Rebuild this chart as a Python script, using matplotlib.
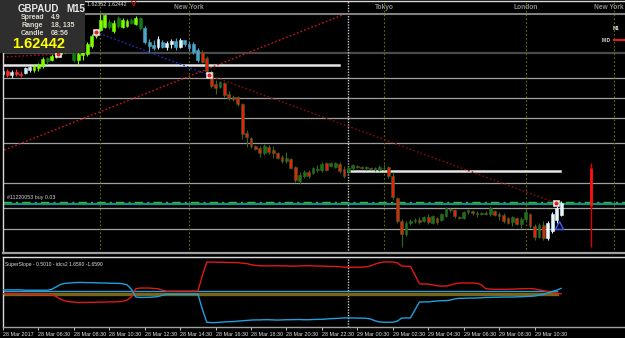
import numpy as np
import matplotlib.pyplot as plt
from matplotlib.patches import Rectangle
from matplotlib.lines import Line2D

plt.rcParams['font.family'] = ['Liberation Sans', 'DejaVu Sans']

# GBPAUD M15 bars, 28 Mar 2017 04:30 -> 29 Mar 11:45
opens = [1.6502, 1.6508, 1.6500, 1.6506, 1.6502, 1.6504, 1.6510, 1.6510, 1.6514, 1.6518,
         1.6534, 1.6530, 1.6538, 1.6542, 1.6550, 1.6554, 1.6550, 1.6530, 1.6540, 1.6542,
         1.6558, 1.6578, 1.6590, 1.6596, 1.6606, 1.6588, 1.6614, 1.6596, 1.6598, 1.6610,
         1.6602, 1.6614, 1.6594, 1.6566, 1.6560, 1.6556, 1.6566, 1.6556, 1.6562, 1.6568,
         1.6556, 1.6570, 1.6562, 1.6562, 1.6550, 1.6546, 1.6534, 1.6506, 1.6482, 1.6476,
         1.6484, 1.6462, 1.6456, 1.6456, 1.6442, 1.6384, 1.6374, 1.6358, 1.6354, 1.6344,
         1.6356, 1.6350, 1.6344, 1.6336, 1.6328, 1.6332, 1.6316, 1.6288, 1.6298, 1.6306,
         1.6304, 1.6310, 1.6310, 1.6324, 1.6318, 1.6316, 1.6322, 1.6312, 1.6306, 1.6314,
         1.6318, 1.6316, 1.6314, 1.6314, 1.6312, 1.6310, 1.6314, 1.6316, 1.6298, 1.6254,
         1.6208, 1.6182, 1.6204, 1.6208, 1.6210, 1.6208, 1.6216, 1.6204, 1.6214, 1.6210,
         1.6218, 1.6232, 1.6230, 1.6216, 1.6214, 1.6226, 1.6228, 1.6224, 1.6222, 1.6224,
         1.6222, 1.6228, 1.6222, 1.6220, 1.6214, 1.6206, 1.6214, 1.6202, 1.6212, 1.6222,
         1.6198, 1.6176, 1.6200, 1.6174, 1.6188, 1.6210, 1.6220]
highs = [1.6510, 1.6512, 1.6510, 1.6512, 1.6508, 1.6516, 1.6518, 1.6522, 1.6524, 1.6536,
         1.6536, 1.6542, 1.6548, 1.6554, 1.6560, 1.6562, 1.6556, 1.6548, 1.6550, 1.6566,
         1.6582, 1.6592, 1.6624, 1.6624, 1.6612, 1.6610, 1.6618, 1.6614, 1.6612, 1.6614,
         1.6618, 1.6616, 1.6598, 1.6572, 1.6570, 1.6578, 1.6570, 1.6568, 1.6572, 1.6574,
         1.6574, 1.6570, 1.6568, 1.6566, 1.6554, 1.6550, 1.6538, 1.6510, 1.6490, 1.6488,
         1.6486, 1.6468, 1.6460, 1.6458, 1.6444, 1.6390, 1.6376, 1.6360, 1.6358, 1.6362,
         1.6360, 1.6358, 1.6346, 1.6340, 1.6346, 1.6334, 1.6318, 1.6306, 1.6310, 1.6310,
         1.6316, 1.6320, 1.6326, 1.6326, 1.6326, 1.6326, 1.6326, 1.6318, 1.6318, 1.6322,
         1.6320, 1.6318, 1.6318, 1.6316, 1.6316, 1.6320, 1.6322, 1.6318, 1.6306, 1.6256,
         1.6212, 1.6208, 1.6212, 1.6214, 1.6216, 1.6218, 1.6222, 1.6220, 1.6216, 1.6224,
         1.6236, 1.6234, 1.6232, 1.6218, 1.6228, 1.6232, 1.6230, 1.6228, 1.6226, 1.6228,
         1.6238, 1.6230, 1.6226, 1.6224, 1.6216, 1.6218, 1.6216, 1.6216, 1.6230, 1.6224,
         1.6202, 1.6204, 1.6208, 1.6208, 1.6226, 1.6238, 1.6248]
lows = [1.6498, 1.6496, 1.6494, 1.6498, 1.6496, 1.6502, 1.6506, 1.6506, 1.6508, 1.6514,
        1.6522, 1.6528, 1.6534, 1.6538, 1.6544, 1.6546, 1.6526, 1.6520, 1.6530, 1.6538,
        1.6554, 1.6574, 1.6588, 1.6594, 1.6592, 1.6584, 1.6594, 1.6594, 1.6596, 1.6602,
        1.6600, 1.6590, 1.6562, 1.6546, 1.6550, 1.6552, 1.6554, 1.6550, 1.6554, 1.6550,
        1.6554, 1.6558, 1.6548, 1.6542, 1.6526, 1.6524, 1.6504, 1.6474, 1.6462, 1.6474,
        1.6456, 1.6450, 1.6448, 1.6438, 1.6372, 1.6356, 1.6354, 1.6350, 1.6336, 1.6340,
        1.6342, 1.6334, 1.6332, 1.6324, 1.6324, 1.6312, 1.6286, 1.6282, 1.6294, 1.6294,
        1.6302, 1.6306, 1.6306, 1.6308, 1.6316, 1.6314, 1.6304, 1.6294, 1.6302, 1.6310,
        1.6314, 1.6312, 1.6310, 1.6310, 1.6308, 1.6308, 1.6310, 1.6294, 1.6252, 1.6204,
        1.6156, 1.6178, 1.6200, 1.6204, 1.6202, 1.6206, 1.6202, 1.6202, 1.6202, 1.6208,
        1.6216, 1.6226, 1.6214, 1.6212, 1.6212, 1.6222, 1.6220, 1.6216, 1.6220, 1.6220,
        1.6218, 1.6218, 1.6210, 1.6204, 1.6202, 1.6198, 1.6200, 1.6194, 1.6208, 1.6194,
        1.6170, 1.6174, 1.6170, 1.6170, 1.6184, 1.6204, 1.6218]
closes = [1.6508, 1.6500, 1.6506, 1.6502, 1.6500, 1.6514, 1.6516, 1.6518, 1.6520, 1.6532,
          1.6528, 1.6538, 1.6544, 1.6550, 1.6556, 1.6550, 1.6530, 1.6542, 1.6546, 1.6562,
          1.6578, 1.6588, 1.6610, 1.6620, 1.6596, 1.6604, 1.6598, 1.6610, 1.6608, 1.6604,
          1.6614, 1.6594, 1.6566, 1.6558, 1.6554, 1.6572, 1.6556, 1.6564, 1.6568, 1.6556,
          1.6570, 1.6562, 1.6554, 1.6546, 1.6530, 1.6526, 1.6508, 1.6478, 1.6474, 1.6486,
          1.6460, 1.6454, 1.6452, 1.6442, 1.6382, 1.6376, 1.6358, 1.6352, 1.6344, 1.6358,
          1.6346, 1.6344, 1.6334, 1.6328, 1.6334, 1.6314, 1.6290, 1.6300, 1.6306, 1.6298,
          1.6314, 1.6312, 1.6322, 1.6310, 1.6324, 1.6324, 1.6308, 1.6298, 1.6314, 1.6320,
          1.6316, 1.6314, 1.6316, 1.6312, 1.6314, 1.6316, 1.6314, 1.6298, 1.6256, 1.6208,
          1.6182, 1.6204, 1.6208, 1.6210, 1.6206, 1.6216, 1.6206, 1.6218, 1.6206, 1.6222,
          1.6234, 1.6230, 1.6218, 1.6214, 1.6226, 1.6230, 1.6224, 1.6222, 1.6224, 1.6222,
          1.6234, 1.6220, 1.6218, 1.6208, 1.6204, 1.6216, 1.6202, 1.6212, 1.6226, 1.6198,
          1.6176, 1.6200, 1.6174, 1.6204, 1.6222, 1.6234, 1.6244]

# SuperSlope indicator (two mirrored lines)
slope_red = [-0.10, -0.10, -0.10, -0.10, -0.10, -0.12, -0.12, -0.12, -0.12, -0.12,
             -0.12, -0.15, -0.25, -0.40, -0.50, -0.54, -0.56, -0.58, -0.58, -0.58,
             -0.57, -0.57, -0.56, -0.56, -0.55, -0.55, -0.54, -0.52, -0.45, -0.25,
             0.18, 0.22, 0.22, 0.22, 0.20, 0.18, 0.10, 0.05, 0.05, 0.05,
             0.05, 0.05, 0.05, 0.05, 0.05, 0.90, 1.66, 1.66, 1.66, 1.65,
             1.65, 1.64, 1.64, 1.63, 1.60, 1.58, 1.52, 1.48, 1.46, 1.45,
             1.45, 1.46, 1.46, 1.45, 1.45, 1.44, 1.44, 1.45, 1.46, 1.46,
             1.45, 1.44, 1.44, 1.43, 1.42, 1.42, 1.41, 1.38, 1.37, 1.37,
             1.38, 1.38, 1.40, 1.45, 1.55, 1.62, 1.67, 1.67, 1.67, 1.62,
             1.44, 1.43, 1.42, 0.95, 0.46, 0.44, 0.44, 0.40, 0.34, 0.33,
             0.33, 0.38, 0.46, 0.50, 0.50, 0.50, 0.50, 0.48, 0.40, 0.18,
             0.16, 0.15, 0.15, 0.15, 0.15, 0.16, 0.17, 0.18, 0.19, 0.19,
             0.17, 0.12, 0.08, 0.02, -0.02, -0.06, -0.10]
slope_blue = [0.12, 0.12, 0.12, 0.12, 0.12, 0.10, 0.10, 0.10, 0.10, 0.10,
              0.10, 0.15, 0.28, 0.42, 0.48, 0.50, 0.52, 0.53, 0.53, 0.52,
              0.52, 0.51, 0.50, 0.50, 0.49, 0.48, 0.48, 0.46, 0.40, 0.15,
              -0.28, -0.30, -0.30, -0.29, -0.28, -0.25, -0.18, -0.12, -0.12, -0.12,
              -0.12, -0.12, -0.12, -0.12, -0.12, -0.95, -1.68, -1.70, -1.70, -1.68,
              -1.66, -1.65, -1.64, -1.62, -1.60, -1.58, -1.56, -1.55, -1.55, -1.54,
              -1.54, -1.55, -1.56, -1.55, -1.54, -1.54, -1.53, -1.53, -1.54, -1.54,
              -1.53, -1.52, -1.52, -1.50, -1.48, -1.47, -1.46, -1.44, -1.44, -1.44,
              -1.45, -1.45, -1.46, -1.50, -1.60, -1.66, -1.68, -1.68, -1.68, -1.62,
              -1.45, -1.44, -1.44, -1.00, -0.56, -0.55, -0.55, -0.52, -0.50, -0.48,
              -0.48, -0.45, -0.38, -0.35, -0.35, -0.34, -0.34, -0.33, -0.32, -0.30,
              -0.30, -0.29, -0.29, -0.28, -0.28, -0.28, -0.27, -0.26, -0.25, -0.24,
              -0.22, -0.18, -0.12, -0.05, 0.02, 0.10, 0.20]
slope_levels = [0.06, -0.12]

time_labels = ['28 Mar 2017', '28 Mar 06:30', '28 Mar 08:30', '28 Mar 10:30', '28 Mar 12:30',
               '28 Mar 14:30', '28 Mar 16:30', '28 Mar 18:30', '28 Mar 20:30', '28 Mar 22:30',
               '29 Mar 00:30', '29 Mar 02:30', '29 Mar 04:30', '29 Mar 06:30', '29 Mar 08:30',
               '29 Mar 10:30']
label_bars = [0, 8, 16, 24, 32, 40, 48, 56, 64, 72, 80, 88, 96, 104, 112, 120]

# sessions (bar index of open) and day separator
session_bars = [22, 42, 86, 118, 138]
session_names = ['', 'New York', 'Tokyo', 'London', 'New York']
day_break = 78

# horizontal levels
grey_levels = [1.6494, 1.6454, 1.6414, 1.6364, 1.6284, 1.6234, 1.6192]
dark_level = 1.6544
prev_levels = [(0.3, 75.8, 1.6520), (77.8, 125.8, 1.6308)]
order_price = 1.6246
teal_price = 1.6242

# trend lines: (bar0, price0, bar1, price1)
up_line = (0.3, 1.6350, 77.8, 1.6624)
down_line = (46.5, 1.6500, 124.9, 1.6244)
blue_line = (21.0, 1.6586, 46.5, 1.6500)
left_line = (0.0, 1.6536, 12.5, 1.6542)
order_marks_x = [12.5, 21.0, 46.5, 124.9]
order_marks_y = [1.6542, 1.6586, 1.6500, 1.6244]

W, H = 625, 338
fig = plt.figure(figsize=(W / 100, H / 100), dpi=100, facecolor='black')
ax = fig.add_axes([3 / W, 1 - 253 / H, 622 / W, 252 / H], facecolor='black')
ax2 = fig.add_axes([3 / W, 11 / H, 622 / W, 70 / H], facecolor='black', sharex=ax)

ax.set_xlim(0.34, 140.43)
ax.set_ylim(1.6144, 1.6648)
ax2.set_ylim(-1.944, 1.944)

# regime colours (bull, bear) by bar ranges
regimes = [(0, '#cfe8f2', '#ff2a2a'), (7, '#7cfc00', '#127a12'), (32, '#d8f4ff', '#4aa6c8'),
           (45, '#1f6e1f', '#e8200e'), (123, '#e8f8ff', '#9ad0e6')]

x = np.arange(len(closes))
o = np.array(opens); c = np.array(closes); hi = np.array(highs); lo = np.array(lows)
for i in x:
    start = [r for r in regimes if r[0] <= i][-1]
    bull = c[i] >= o[i]
    face = start[1] if bull else start[2]
    edge = face
    if start[0] == 45:
        edge = '#2d6a1a'
    ax.vlines(i, lo[i], hi[i], color=edge, lw=0.8, zorder=3)
    body = max(abs(c[i] - o[i]), 0.00008)
    ax.add_patch(Rectangle((i - 0.32, min(o[i], c[i])), 0.64, body, facecolor=face,
                           edgecolor=edge, lw=0.4, zorder=4))

for lv in grey_levels:
    ax.axhline(lv, color='#a0a0a0', lw=0.9, zorder=1)
ax.axhline(dark_level, color='#4a4a4a', lw=1.6, zorder=1)
for b0, b1, lv in prev_levels:
    ax.plot([b0, b1], [lv, lv], color='#e6e6e6', lw=1.8, zorder=2)
ax.axhline(teal_price, color='#1a8a8a', lw=1.6, zorder=2)
ax.axhline(order_price, color='#2ec02e', lw=1.0, ls=(0, (6, 3, 1.5, 3)), zorder=2)

for b, name in zip(session_bars, session_names):
    ax.axvline(b, color='#6e6e00', lw=0.8, ls=(0, (1.5, 2)), zorder=1)
    # keep the last label inside the right edge
    tx, align = (b, 'center') if b < 135 else (140.2, 'right')
    ax.text(tx, 1.6635, name, color='#8c8c8c', fontsize=4.8, fontweight='bold',
            ha=align, va='center', zorder=6)
ax.axvline(day_break, color='#c8c8c8', lw=1.0, ls=(0, (1, 1)), zorder=1)
ax2.axvline(day_break, color='#c8c8c8', lw=1.0, ls=(0, (1, 1)), zorder=1)

# session strip border
ax.plot([0, 1], [1 - 13 / 252, 1 - 13 / 252], transform=ax.transAxes, color='#808080', lw=1.5, zorder=5)

for ln, col in [(up_line, '#d01818'), (down_line, '#8b0c0c'), (blue_line, '#1c2ccc'), (left_line, '#b01010')]:
    ax.plot([ln[0], ln[2]], [ln[1], ln[3]], color=col, lw=1.0, ls=(0, (1.2, 1.6)), zorder=2)

ax.scatter(order_marks_x, order_marks_y, marker='s', s=14, facecolor='white', edgecolor='#d0d0d0',
           lw=0.5, zorder=7)
ax.scatter(order_marks_x, order_marks_y, marker='o', s=4, color='#e02020', zorder=8)

ax.plot(125.5, 1.6200, marker='^', ms=6, mfc='none', mec='#3a5cff', mew=1.0, zorder=6)
ax.vlines(132.8, 1.6156, 1.6324, color='#e00000', lw=1.0, zorder=3)
ax.vlines(132.8, 1.6238, 1.6314, color='#ff1010', lw=2.0, zorder=3)

ax.text(0.9, order_price + 0.0004, '#11220053 buy 0.03', color='#d0d0d0', fontsize=3.8,
        va='bottom', ha='left', zorder=6)

# indicator panel
ax2.plot([0, 125], [slope_levels[0]] * 2, color='#2aa0d8', lw=1.0, zorder=2)
ax2.plot([0, 125], [slope_levels[1]] * 2, color='#7a6416', lw=2.4, zorder=2)
ax2.plot(x, slope_red, color='#e01818', lw=1.0, zorder=3)
ax2.plot(x, slope_blue, color='#1ea0e0', lw=1.0, zorder=3)
ax2.text(0.004, 0.93, 'SuperSlope - 0.5010 - idcs2 1.6590 -1.6590', transform=ax2.transAxes,
         color='#e0e0e0', fontsize=3.6, va='top', ha='left')

for a in (ax, ax2):
    for s in a.spines.values():
        s.set_color('#d8d8d8')
        s.set_linewidth(1.0)
    a.spines['right'].set_visible(False)
    a.tick_params(left=False, labelleft=False)
ax.spines['bottom'].set_color('#a0a0a0')
ax.spines['bottom'].set_linewidth(1.6)
ax2.spines['bottom'].set_color('#a0a0a0')
ax.tick_params(bottom=False, labelbottom=False)
ax2.set_xticks(label_bars)
ax2.set_xticklabels(time_labels, ha='left')
ax2.tick_params(axis='x', colors='#e0e0e0', labelsize=3.9, length=2, width=0.6, pad=1.5)

# info panel top-left
fig.add_artist(Rectangle((0, 1 - 53 / H), 85 / W, 53 / H, transform=fig.transFigure,
                         facecolor='#2e2e2e', edgecolor='none', zorder=10))
fig.text(18 / W, 1 - 9 / H, 'GBPAUD', color='#e8e8e8', fontsize=7, fontweight='bold',
         va='center', zorder=11)
fig.text(66 / W, 1 - 9 / H, 'M15', color='#e8e8e8', fontsize=7, fontweight='bold',
         va='center', zorder=11)
for k, (lab, val) in enumerate([('Spread', '4.9'), ('Range', '18, 135'), ('Candle', '08:56')]):
    yy = 1 - (17.5 + 8 * k) / H
    fig.text(21 / W, yy, lab, color='#dcd8c8', fontsize=5, fontweight='bold', va='center', zorder=11)
    fig.text(51 / W, yy, val, color='#dcd8c8', fontsize=5, fontweight='bold', va='center', zorder=11)
fig.text(12 / W, 1 - 44.5 / H, '1.62442', color='#ffff00', fontsize=10.5, fontweight='bold',
         va='center', zorder=11)
fig.text(87 / W, 1 - 5 / H, '1.62352 1.62442', color='#e0e0e0', fontsize=3.8, va='center')
fig.text(131 / W, 1 - 5 / H, 'V', color='#d01010', fontsize=6, fontweight='bold', va='center')
fig.text(613 / W, 1 - 28 / H, 'M1', color='#e0e0e0', fontsize=3.5, fontweight='bold', va='center')
fig.text(602 / W, 1 - 40 / H, 'MID', color='#e0e0e0', fontsize=3.5, fontweight='bold', va='center')
fig.add_artist(Line2D([614 / W, 1], [1 - 40 / H] * 2, color='#e02020', lw=1.5))

fig.savefig('out.png', dpi=100, facecolor='black')
